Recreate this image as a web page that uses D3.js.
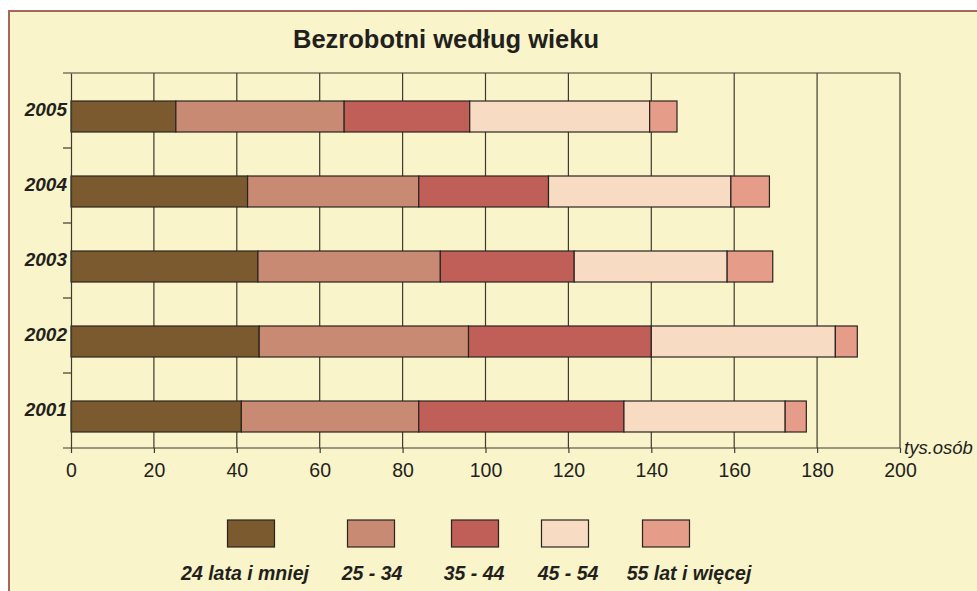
<!DOCTYPE html>
<html>
<head>
<meta charset="utf-8">
<script src="https://cdn.jsdelivr.net/npm/d3@7"></script>
<style>
  body { margin: 0; background: #ffffff; }
  svg { display: block; }
</style>
</head>
<body>
<div id="chart"></div>
<script>
// dane - tys. osób
const lata = ["2005", "2004", "2003", "2002", "2001"];
const grupy = ["24 lata i mniej", "25 - 34", "35 - 44", "45 - 54", "55 lat i więcej"];
const wiek24 = [25.3, 42.6, 45.1, 45.4, 41.1];
const wiek25_34 = [40.6, 41.3, 44.0, 50.5, 42.8];
const wiek35_44 = [30.3, 31.3, 32.3, 44.1, 49.5];
const wiek45_54 = [43.4, 44.0, 36.9, 44.4, 38.9];
const wiek55 = [6.6, 9.3, 11.0, 5.3, 5.1];
const ticksX = [0, 20, 40, 60, 80, 100, 120, 140, 160, 180, 200];

const kolory = ["#7a5a2e", "#c88a72", "#c05e58", "#f7dcc3", "#e59c88"];
const serie = [wiek24, wiek25_34, wiek35_44, wiek45_54, wiek55];

const width = 977, height = 591;
const margin = { top: 73, left: 71, right: 77, bottom: 143 };
const font = "'Liberation Sans', Arial, sans-serif";

const svg = d3.select("#chart").append("svg")
  .attr("width", width)
  .attr("height", height);

// tło i ramka
svg.append("rect")
  .attr("x", 9).attr("y", 11)
  .attr("width", width).attr("height", height)
  .attr("fill", "#f9f4c9")
  .attr("stroke", "#a8675a")
  .attr("stroke-width", 2);

// tytuł
svg.append("text")
  .attr("x", 446).attr("y", 48)
  .attr("text-anchor", "middle")
  .style("font-family", font)
  .style("font-weight", "bold")
  .style("font-size", "25.5px")
  .attr("fill", "#231f1c")
  .text("Bezrobotni według wieku");

const x = d3.scaleLinear()
  .domain([0, 200])
  .range([margin.left, width - margin.right]);

const y = d3.scaleBand()
  .domain(lata)
  .range([margin.top, height - margin.bottom]);

// tabela stosu
const tabela = lata.map((rok, i) => {
  const wiersz = { rok };
  grupy.forEach((g, j) => { wiersz[g] = serie[j][i]; });
  return wiersz;
});
const stos = d3.stack().keys(grupy)(tabela);

const lineColor = "#3e3b30";

// linie siatki
svg.append("g")
  .selectAll("line")
  .data(ticksX.slice(1))
  .enter()
  .append("line")
  .attr("x1", (d) => x(d)).attr("x2", (d) => x(d))
  .attr("y1", margin.top).attr("y2", height - margin.bottom)
  .attr("stroke", lineColor)
  .attr("stroke-width", 1.2);

// górna linia
svg.append("line")
  .attr("x1", margin.left - 8).attr("x2", x(200))
  .attr("y1", margin.top).attr("y2", margin.top)
  .attr("stroke", lineColor)
  .attr("stroke-width", 1.2);

// słupki
const barH = 31;
const barOff = 28;
svg.append("g")
  .selectAll("g")
  .data(stos)
  .enter()
  .append("g")
  .attr("fill", (d, i) => kolory[i])
  .selectAll("rect")
  .data((d) => d)
  .enter()
  .append("rect")
  .attr("x", (d) => x(d[0]))
  .attr("width", (d) => x(d[1]) - x(d[0]))
  .attr("y", (d) => y(d.data.rok) + barOff)
  .attr("height", barH)
  .attr("stroke", "#2a2420")
  .attr("stroke-width", 1.2);

// oś X
const osX = svg.append("g")
  .attr("transform", `translate(0, ${height - margin.bottom})`)
  .call(d3.axisBottom(x).tickValues(ticksX).tickSize(5).tickSizeOuter(0).tickPadding(10));
osX.select(".domain").remove();
osX.selectAll(".tick line").attr("stroke", lineColor).attr("stroke-width", 1.2);
osX.selectAll("text")
  .style("font-family", font)
  .style("font-size", "19.5px")
  .attr("fill", "#231f1c");
osX.append("line")
  .attr("x1", margin.left - 8).attr("x2", x(200))
  .attr("stroke", lineColor)
  .attr("stroke-width", 1.2);

// oś Y
const osY = svg.append("g")
  .attr("transform", `translate(${margin.left}, 0)`)
  .call(d3.axisLeft(y).tickSize(0).tickPadding(4).tickSizeOuter(0));
osY.select(".domain").attr("stroke", lineColor).attr("stroke-width", 1.2);
osY.selectAll("text")
  .attr("dy", "0.35em")
  .attr("y", barOff + barH / 2 - y.bandwidth() / 2 - 7)
  .style("font-family", font)
  .style("font-size", "19px")
  .style("font-weight", "bold")
  .style("font-style", "italic")
  .attr("fill", "#231f1c");

// kreski między kategoriami
svg.append("g")
  .selectAll("line")
  .data(lata.slice(1))
  .enter()
  .append("line")
  .attr("x1", margin.left - 8).attr("x2", margin.left)
  .attr("y1", (d) => y(d)).attr("y2", (d) => y(d))
  .attr("stroke", lineColor)
  .attr("stroke-width", 1.2);

// jednostka
svg.append("text")
  .attr("x", x(200) + 4).attr("y", height - margin.bottom + 6)
  .style("font-family", font)
  .style("font-size", "18.5px")
  .style("font-style", "italic")
  .attr("fill", "#231f1c")
  .text("tys.osób");

// legenda
const legendaX = [251, 371, 475, 565, 666];
const legendaTxtX = [245, 372, 474, 568, 689];
const legenda = svg.append("g");
grupy.forEach((g, i) => {
  legenda.append("rect")
    .attr("x", legendaX[i] - 23.5)
    .attr("y", 520)
    .attr("width", 47)
    .attr("height", 27)
    .attr("fill", kolory[i])
    .attr("stroke", "#2a2420")
    .attr("stroke-width", 1.2);
  legenda.append("text")
    .attr("x", legendaTxtX[i])
    .attr("y", 580)
    .attr("text-anchor", "middle")
    .style("font-family", font)
    .style("font-size", "19.5px")
    .style("font-weight", "bold")
    .style("font-style", "italic")
    .attr("fill", "#231f1c")
    .text(g);
});
</script>
</body>
</html>
